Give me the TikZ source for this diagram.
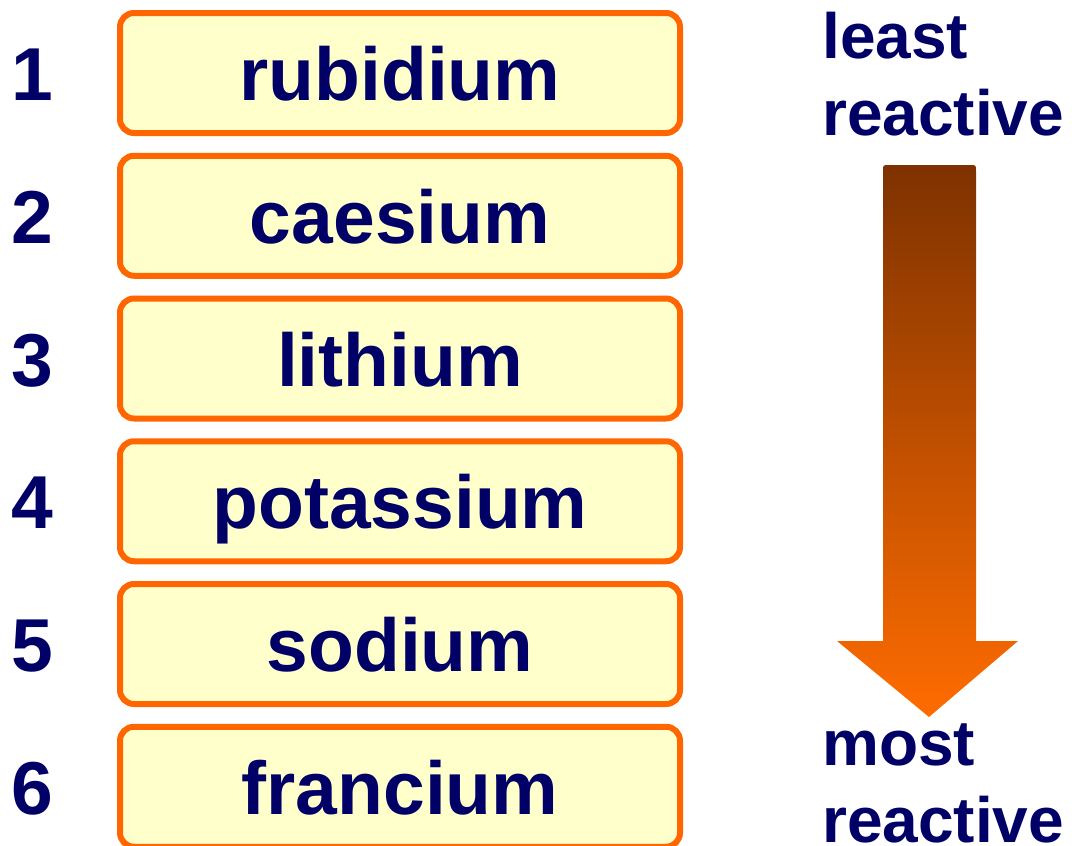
\documentclass[tikz,border=0pt]{standalone}
\usepackage{fontspec}
\setmainfont{Liberation Sans}
\definecolor{boxfill}{HTML}{FFFFCC}
\definecolor{boxline}{HTML}{FF6600}
\definecolor{navytext}{HTML}{000066}
\definecolor{arrowtop}{RGB}{126,50,0}
\definecolor{arrowbot}{RGB}{255,108,0}
\tikzset{
  elembox/.style={draw=boxline, fill=boxfill, line width=6pt, rounded corners=14pt,
    minimum width=560pt, minimum height=120pt, inner sep=0pt, text=navytext,
    font=\bfseries\fontsize{75}{80}\selectfont, text height=55pt, text depth=0pt},
  rank/.style={inner sep=0pt, text=navytext,
    font=\bfseries\fontsize{75}{80}\selectfont, text height=55pt, text depth=0pt},
  endlabel/.style={inner sep=0pt, text=navytext, align=left, anchor=base west,
    font=\bfseries\fontsize{64}{77}\selectfont}
}
\begin{document}
\begin{tikzpicture}[x=1pt, y=-1pt]
  \useasboundingbox (0,0) rectangle (1074,846);
  % Element boxes
  \node[elembox] (rubidium)  at (400,73)     {rubidium};
  \node[elembox] (caesium)   at (400,215.75) {caesium};
  \node[elembox] (lithium)   at (400,358.5)  {lithium};
  \node[elembox] (potassium) at (400,501.25) {potassium};
  \node[elembox] (sodium)    at (400,644)    {sodium};
  \node[elembox] (francium)  at (400,786.75) {francium};
  % Order numbers
  \node[rank] (rank1) at (32,73)     {1};
  \node[rank] (rank2) at (32,215.75) {2};
  \node[rank] (rank3) at (32,358.5)  {3};
  \node[rank] (rank4) at (32,501.25) {4};
  \node[rank] (rank5) at (32,644)    {5};
  \node[rank] (rank6) at (32,786.75) {6};
  % Reactivity arrow
  \shade[top color=arrowtop, bottom color=arrowbot]
    (883,641) -- (883,171) .. controls (883,165) .. (889,165) -- (970,165)
    .. controls (976,165) .. (976,171) -- (976,641) -- (1018,641) -- (929,717)
    -- (837,641) -- cycle;
  % End labels (base is the last line)
  \node[endlabel] (least) at (822,135) {least\\reactive};
  \node[endlabel] (most)  at (822,842) {most\\reactive};
\end{tikzpicture}
\end{document}
